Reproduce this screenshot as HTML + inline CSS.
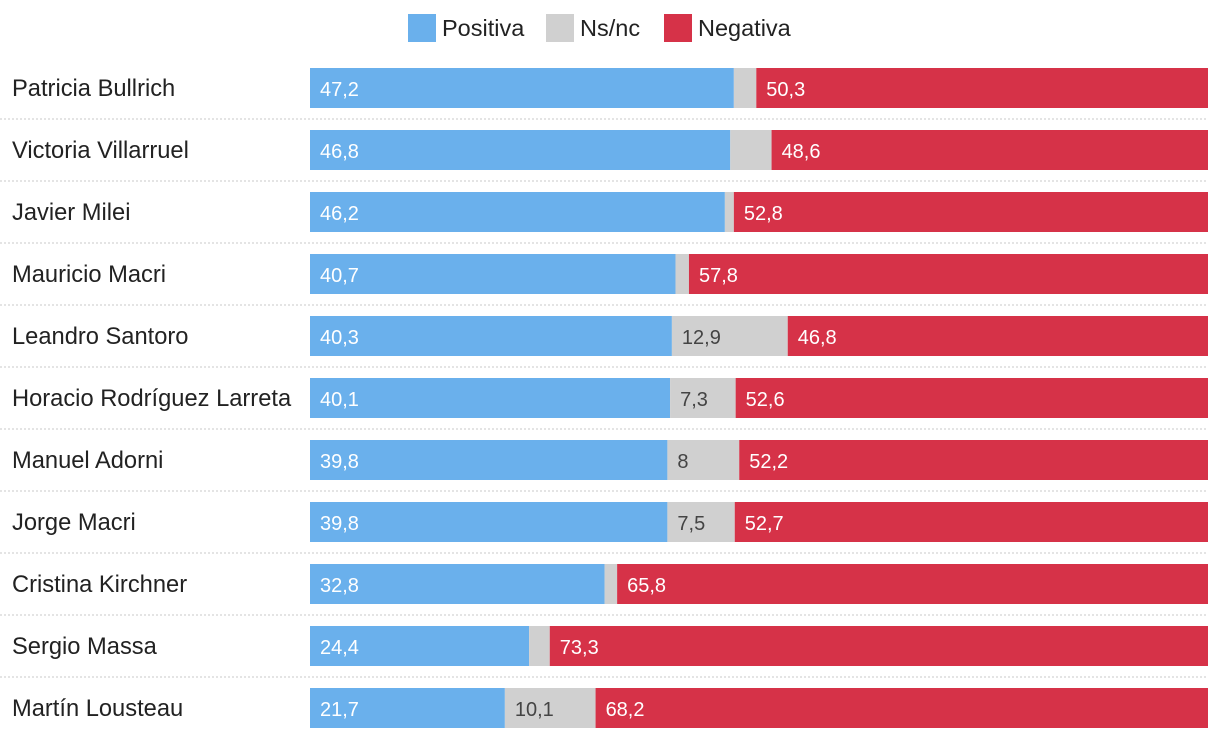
<!DOCTYPE html>
<html><head><meta charset="utf-8">
<style>
body{margin:0;width:1220px;height:740px;background:#fff;font-family:"Liberation Sans",sans-serif;overflow:hidden}
svg text{font-family:"Liberation Sans",sans-serif}
</style></head>
<body>
<svg id="chart" width="1220" height="740"></svg>
<script>
const names=["Patricia Bullrich","Victoria Villarruel","Javier Milei","Mauricio Macri","Leandro Santoro","Horacio Rodríguez Larreta","Manuel Adorni","Jorge Macri","Cristina Kirchner","Sergio Massa","Martín Lousteau"];
const positiva=[47.2,46.8,46.2,40.7,40.3,40.1,39.8,39.8,32.8,24.4,21.7];
const nsnc=[2.5,4.6,1.0,1.5,12.9,7.3,8,7.5,1.4,2.3,10.1];
const negativa=[50.3,48.6,52.8,57.8,46.8,52.6,52.2,52.7,65.8,73.3,68.2];
const fmt=v=>String(v).replace('.',',');
const svg=document.getElementById('chart');
const NS='http://www.w3.org/2000/svg';
const x0=310,x1=1208;
const xs=v=>v/100*(x1-x0);
const yTop=i=>68+i*62;
function mk(tag,attrs,parent){const e=document.createElementNS(NS,tag);for(const k in attrs)e.setAttribute(k,attrs[k]);(parent||svg).appendChild(e);return e;}
// legend
const leg=[["Positiva","#6ab0ec",408],["Ns/nc","#d0d0d0",546],["Negativa","#d63248",664]];
leg.forEach(l=>{
  const g=mk('g',{});
  
  
  mk('rect',{x:l[2],y:14,width:28,height:28,fill:l[1]},g);
  const t=mk('text',{x:l[2]+34,y:36,'font-size':23.5,fill:'#222'},g);t.textContent=l[0];
});
names.forEach((n,i)=>{
  const y=yTop(i);
  const g=mk('g',{});
  
  
  const lab=mk('text',{x:12,y:y+28,'font-size':23.7,fill:'#222'},g);lab.textContent=n;
  
  
  let x=x0;
  const segs=[[positiva[i],'#6ab0ec','#fff','bar-positiva'],[nsnc[i],'#d0d0d0','#444','bar-nsnc'],[negativa[i],'#d63248','#fff','bar-negativa']];
  segs.forEach(s=>{
    let w=xs(s[0]);
    if(s[3]==='bar-negativa') w=x1-x;
    const r=mk('rect',{x:x,y:y,width:w,height:40,fill:s[1]},g);
    
    
    if(s[0]>=5){const t=mk('text',{x:x+10,y:y+28,'font-size':20,fill:s[2]},g);t.textContent=fmt(s[0]);}
    x+=w;
  });
  if(i<names.length-1){
    const d=mk('line',{x1:0,x2:x1,y1:y+51,y2:y+51,stroke:'#c8c8c8','stroke-width':1,'stroke-dasharray':'2,2'});
    
    
  }
});
</script>
</body></html>
